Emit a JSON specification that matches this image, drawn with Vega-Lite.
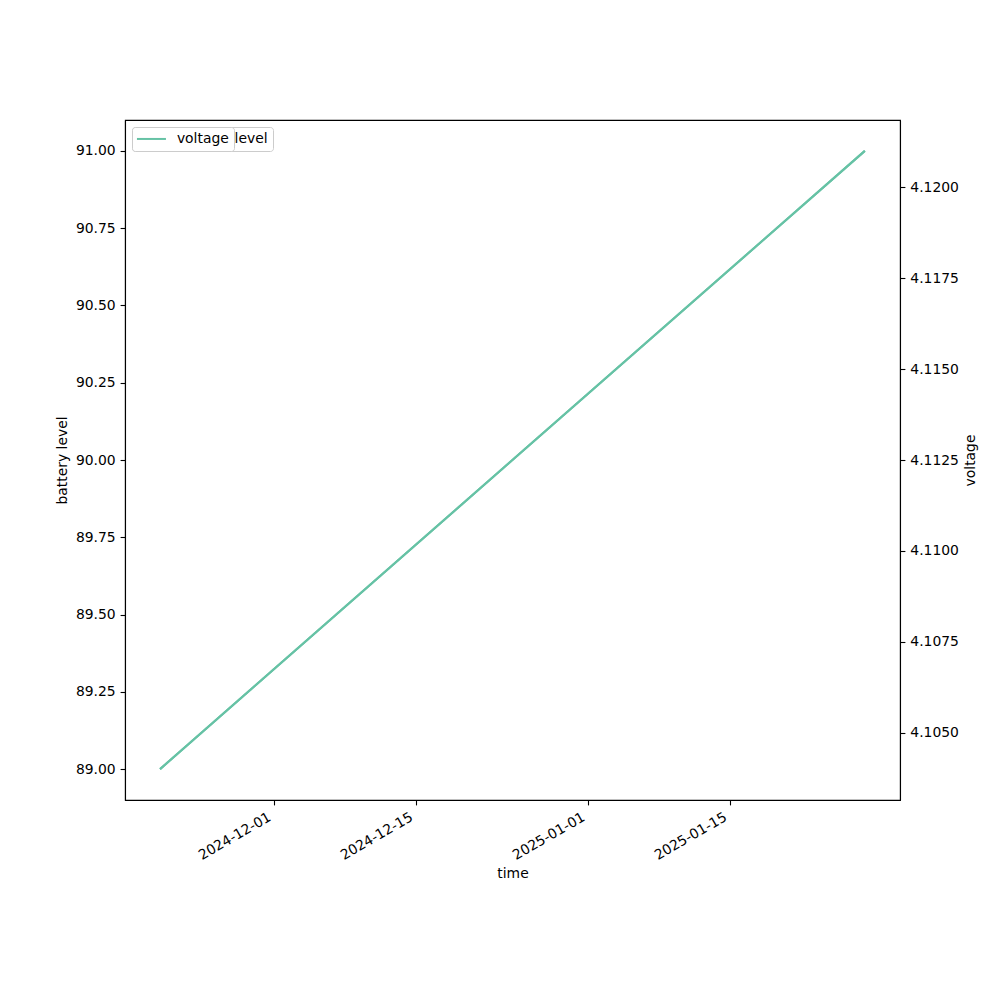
{
  "$schema": "https://vega.github.io/schema/vega-lite/v6.json",
  "width": 775,
  "height": 680,
  "autosize": {"type": "none"},
  "padding": {"left": 125, "top": 120, "right": 100, "bottom": 200},
  "background": "white",
  "data": {"values": [
    {"time": "2024-11-19T18:00:00", "battery_level": 89.0, "voltage": 4.104},
    {"time": "2025-01-28T08:00:00", "battery_level": 91.0, "voltage": 4.121}
  ]},
  "config": {
    "font": "DejaVu Sans",
    "view": {"stroke": "black", "strokeWidth": 1.1},
    "axis": {
      "grid": false,
      "domainColor": "black",
      "domainWidth": 1.1,
      "tickColor": "black",
      "tickWidth": 1.1,
      "tickSize": 4.9,
      "labelPadding": 4.9,
      "labelFontSize": 13.9,
      "labelColor": "black",
      "titleFontSize": 13.9,
      "titleFontWeight": "normal",
      "titleColor": "black",
      "labelFlush": false,
      "labelOverlap": false
    },
    "legend": {
      "orient": "none",
      "fillColor": "white",
      "strokeColor": "#cccccc",
      "cornerRadius": 3,
      "padding": 5,
      "symbolType": "M-2.9,0H2.9",
      "symbolStrokeWidth": 2,
      "symbolSize": 100,
      "symbolOffset": 7.5,
      "labelFontSize": 13.9,
      "labelColor": "black",
      "labelOffset": 18.5,
      "title": null
    }
  },
  "encoding": {
    "x": {
      "field": "time",
      "type": "temporal",
      "scale": {
        "domain": [
          {"year": 2024, "month": 11, "date": 16, "hours": 7},
          {"year": 2025, "month": 1, "date": 31, "hours": 19, "minutes": 15}
        ]
      },
      "axis": {
        "title": "time",
        "titlePadding": 4,
        "format": "%Y-%m-%d",
        "labelAngle": -30,
        "labelAlign": "right",
        "labelBaseline": "top",
        "labelOffset": -8,
        "values": [
          {"year": 2024, "month": 12, "date": 1},
          {"year": 2024, "month": 12, "date": 15},
          {"year": 2025, "month": 1, "date": 1},
          {"year": 2025, "month": 1, "date": 15}
        ]
      }
    }
  },
  "layer": [
    {
      "mark": {"type": "line", "strokeWidth": 2.1},
      "encoding": {
        "y": {
          "field": "battery_level",
          "type": "quantitative",
          "scale": {"domain": [88.9, 91.1], "zero": false, "nice": false},
          "axis": {
            "title": "battery level",
            "format": ".2f",
            "values": [89, 89.25, 89.5, 89.75, 90, 90.25, 90.5, 90.75, 91],
            "titlePadding": 6
          }
        },
        "color": {
          "datum": "battery_level",
          "type": "nominal",
          "scale": {"range": ["#66c2a5"]},
          "legend": {"legendX": 7, "legendY": 7}
        }
      }
    },
    {
      "mark": {"type": "line", "strokeWidth": 2.1},
      "encoding": {
        "y": {
          "field": "voltage",
          "type": "quantitative",
          "scale": {"domain": [4.10315, 4.12185], "zero": false, "nice": false},
          "axis": {
            "orient": "right",
            "title": "voltage",
            "titleAngle": 270,
            "titleX": 70,
            "titleY": 340,
            "titleAlign": "center",
            "titleBaseline": "middle",
            "format": ".4f",
            "values": [4.105, 4.1075, 4.11, 4.1125, 4.115, 4.1175, 4.12]
          }
        },
        "color": {
          "datum": "voltage",
          "type": "nominal",
          "scale": {"range": ["#66c2a5"]},
          "legend": {"legendX": 7, "legendY": 7}
        }
      }
    }
  ],
  "resolve": {"scale": {"y": "independent", "color": "independent"}}
}
